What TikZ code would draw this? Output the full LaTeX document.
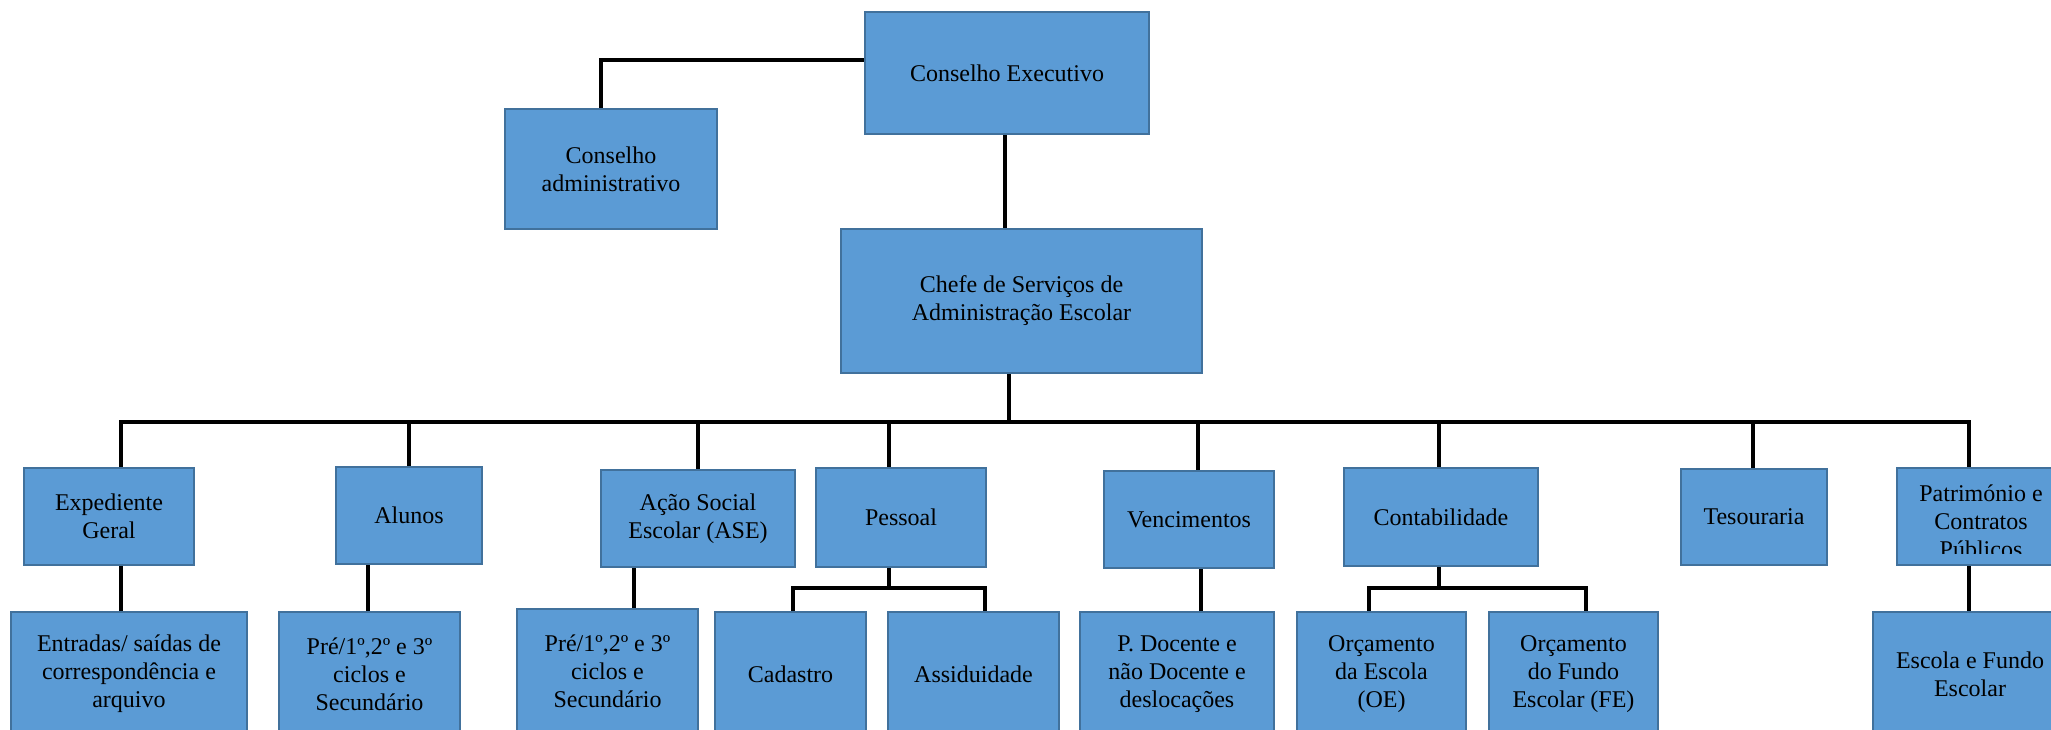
\documentclass[tikz,border=0pt]{standalone}
\usepackage{fontspec}
\setmainfont{Liberation Serif}
\usetikzlibrary{backgrounds}
\definecolor{boxfill}{RGB}{91,155,213}
\definecolor{boxline}{RGB}{65,113,156}
\begin{document}
\begin{tikzpicture}[x=1pt,y=-1pt,
  box/.style={draw=boxline, fill=boxfill, line width=2.5pt, inner sep=0pt,
    align=center, font=\fontsize{24}{28}\selectfont},
  txt/.style={inner sep=0pt, align=center, font=\fontsize{24}{28}\selectfont},
  conn/.style={draw=black, line width=4pt, line join=miter}]
\useasboundingbox (0,0) rectangle (2051,729);
\clip (0,0) rectangle (2051,729);

% top level
\node[box, minimum width=284, minimum height=122] (CE) at (1007,73) {Conselho Executivo};
\node[box, minimum width=212, minimum height=120] (CA) at (611,169) {Conselho\\administrativo};
\node[box, minimum width=361, minimum height=144] (CS) at (1021.5,301) {Chefe de Serviços de\\Administração Escolar};

% second row
\node[box, minimum width=170, minimum height=97] (EG) at (109,516.5) {Expediente\\Geral};
\node[box, minimum width=146, minimum height=97] (AL) at (409,515.5) {Alunos};
\node[box, minimum width=194, minimum height=97] (ASE) at (698,518.5) {Ação Social\\Escolar (ASE)};
\node[box, minimum width=170, minimum height=99] (PE) at (901,517.5) {Pessoal};
\node[box, minimum width=170, minimum height=97] (VE) at (1189,519.5) {Vencimentos};
\node[box, minimum width=194, minimum height=98] (CO) at (1441,517) {Contabilidade};
\node[box, minimum width=146, minimum height=96] (TE) at (1754,517) {Tesouraria};
\node[box, minimum width=168, minimum height=97] (PA) at (1981,516.5) {};
\begin{scope}
  \clip (1897,468) rectangle (2070,553);
  \node[txt] (PAt) at (1981,521) {Património e\\Contratos\\Públicos};
\end{scope}

% third row
\node[box, minimum width=236, minimum height=124] (EN) at (129,674) {Entradas/ saídas de\\correspondência e\\arquivo};
\node[box, minimum width=181, minimum height=124] (PR1) at (369.5,674) {Pré/1º,2º e 3º\\ciclos e\\Secundário};
\node[box, minimum width=181, minimum height=124] (PR2) at (607.5,671) {Pré/1º,2º e 3º\\ciclos e\\Secundário};
\node[box, minimum width=151, minimum height=124] (CD) at (790.5,674) {Cadastro};
\node[box, minimum width=171, minimum height=124] (AS) at (973.5,674) {Assiduidade};
\node[box, minimum width=194, minimum height=124] (PD) at (1177,674) {P. Docente e\\não Docente e\\deslocações};
\node[box, minimum width=169, minimum height=124] (OE) at (1381.5,674) {Orçamento\\da Escola\\(OE)};
\node[box, minimum width=169, minimum height=124] (OF) at (1573.5,674) {Orçamento\\do Fundo\\Escolar (FE)};
\node[box, minimum width=194, minimum height=124] (EF) at (1970,674) {Escola e Fundo\\Escolar};

% connector points
\coordinate (jCA) at (601,60);
\coordinate (jCE) at (1005,0);
\coordinate (bc) at (1009,422);
\coordinate (b1) at (121,422);
\coordinate (b2) at (409,422);
\coordinate (b3) at (697.5,422);
\coordinate (b4) at (889,422);
\coordinate (b5) at (1198,422);
\coordinate (b6) at (1438.5,422);
\coordinate (b7) at (1753,422);
\coordinate (b8) at (1969,422);
\coordinate (cAL) at (368,0);
\coordinate (cASE) at (634,0);
\coordinate (cVE) at (1201,0);
\coordinate (pb) at (889,588);
\coordinate (pL) at (793,588);
\coordinate (pR) at (985,588);
\coordinate (ob) at (1438.5,588);
\coordinate (oL) at (1369,588);
\coordinate (oR) at (1586,588);

\begin{scope}[on background layer]
  \draw[conn] (CE.west |- jCA) -- (jCA) -- (jCA |- CA.north);
  \draw[conn] (CE.south -| jCE) -- (CS.north -| jCE);
  \draw[conn] (CS.south -| bc) -- (bc);
  \draw[conn] (b1 |- EG.north) -- (b1) -- (b8) -- (b8 |- PA.north);
  \draw[conn] (b2) -- (b2 |- AL.north);
  \draw[conn] (b3) -- (b3 |- ASE.north);
  \draw[conn] (b4) -- (b4 |- PE.north);
  \draw[conn] (b5) -- (b5 |- VE.north);
  \draw[conn] (b6) -- (b6 |- CO.north);
  \draw[conn] (b7) -- (b7 |- TE.north);
  \draw[conn] (EG.south -| b1) -- (EN.north -| b1);
  \draw[conn] (AL.south -| cAL) -- (PR1.north -| cAL);
  \draw[conn] (ASE.south -| cASE) -- (PR2.north -| cASE);
  \draw[conn] (PE.south -| pb) -- (pb);
  \draw[conn] (pL |- CD.north) -- (pL) -- (pR) -- (pR |- AS.north);
  \draw[conn] (VE.south -| cVE) -- (PD.north -| cVE);
  \draw[conn] (CO.south -| ob) -- (ob);
  \draw[conn] (oL |- OE.north) -- (oL) -- (oR) -- (oR |- OF.north);
  \draw[conn] (PA.south -| b8) -- (EF.north -| b8);
\end{scope}
\end{tikzpicture}
\end{document}
